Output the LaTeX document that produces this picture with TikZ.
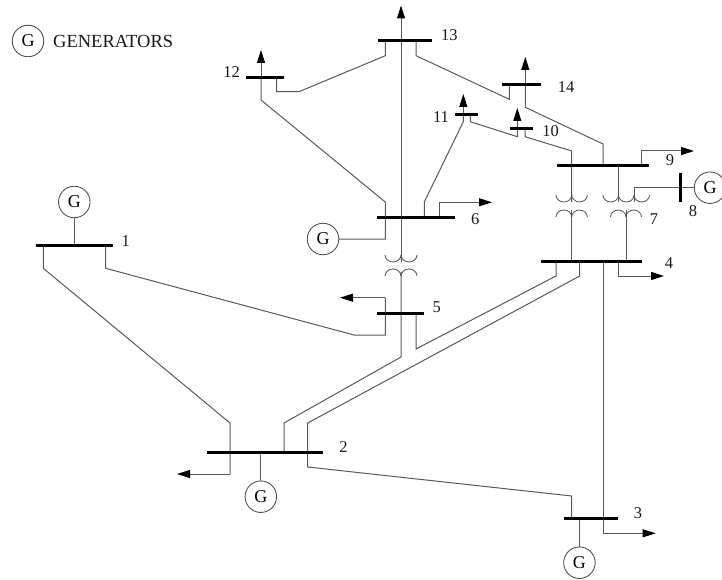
\documentclass[tikz,border=0pt]{standalone}
\usepackage{fontspec}
\setmainfont{Liberation Serif}
\usetikzlibrary{arrows.meta}
\tikzset{
  x=1pt,y=-1pt,
  wire/.style={draw=black!65,line width=1pt,line join=miter},
  load/.style={wire,-{Triangle[black,length=13pt,width=8pt]}},
  coil/.style={draw=black!65,line width=0.85pt},
  busbar/.style={draw=black,line width=3pt},
  gen/.style={circle,draw=black!70,line width=0.85pt,minimum size=31.5pt,inner sep=0pt,font=\fontsize{18}{18}\selectfont},
  lbl/.style={inner sep=0pt,text=black!90,font=\fontsize{16.5}{16.5}\selectfont},
}
\newcommand{\upcoil}[3]{\draw[coil] (#1,#2) arc[start angle=180,end angle=0,x radius=#3,y radius=7];}
\newcommand{\lowcoil}[3]{\draw[coil] (#1,#2) arc[start angle=180,end angle=360,x radius=#3,y radius=7];}
\begin{document}
\begin{tikzpicture}
\useasboundingbox (0,0) rectangle (722,580);
% buses
\foreach \n/\xa/\xb/\yy in {1/36/113/245,2/207/323/452,3/564/618/518.7,4/541/642/261.3,5/377/424/313,6/377/455/217,9/557/649/165.3,10/510/533/128.7,11/455/478/114.3,12/246/284/77.3,13/378/432/41,14/502/541/85}{
  \coordinate (b\n a) at (\xa,\yy);
  \coordinate (b\n b) at (\xb,\yy);
}
\coordinate (b8a) at (680.7,173);
\coordinate (b8b) at (680.7,202);
% generators
\node[gen] (gleg) at (28,41) {G};
\node[gen] (g1) at (74.3,202) {G};
\node[gen] (g2) at (260.8,496.7) {G};
\node[gen] (g3) at (579.4,562.7) {G};
\node[gen] (g6) at (323,239) {G};
\node[gen] (g8) at (710,187.7) {G};
% load end points
\coordinate (l13) at (401,5.5);
\coordinate (l12) at (261,50);
\coordinate (l14) at (525.3,57);
\coordinate (l11) at (463.3,94);
\coordinate (l10) at (517.3,108);
\coordinate (l9) at (694,151);
\coordinate (l6) at (492,202.3);
\coordinate (l5) at (340,297.7);
\coordinate (l4) at (664,276);
\coordinate (l3) at (655.7,533.3);
\coordinate (l2) at (177,474);
% wires
\draw[wire] (g1) -- (74.3,245);
\draw[wire] (43.3,245) -- (43.3,268.3) -- (230,423) -- (230,474);
\draw[load] (230,474) -- (l2);
\draw[wire] (105.7,245) -- (105.7,268.3) -- (354,335) -- (385.3,335) -- (385.3,297.7);
\draw[load] (385.3,297.7) -- (l5);
\draw[wire] (g2) -- (260.8,452);
\draw[wire] (284,452) -- (284,423) -- (401,357) -- (401,272);
\draw[wire] (416,313) -- (416,349) -- (556,276) -- (556,261.3);
\draw[wire] (579.7,261.3) -- (579.7,276) -- (307.7,423) -- (307.7,467) -- (571.7,496) -- (571.7,518.7);
\draw[wire] (603,261.3) -- (603,533.3);
\draw[load] (603,533.3) -- (l3);
\draw[wire] (g3) -- (579.4,518.7);
\draw[load] (618.7,261.3) -- (618.7,276) -- (l4);
\draw[wire] (g6) -- (385.3,239) -- (385.3,202) -- (261,100) -- (261,77.3);
\draw[load] (261,77.3) -- (l12);
\draw[wire] (276.7,77.3) -- (276.7,91.7) -- (299,91.7) -- (385.3,55.7) -- (385.3,41);
\draw[load] (401,262) -- (l13);
\draw[wire] (424.3,217) -- (424.3,202) -- (463.3,121.7) -- (463.3,114.3);
\draw[load] (463.3,114.3) -- (l11);
\draw[load] (439.3,217) -- (439.3,202.3) -- (l6);
\draw[wire] (470.3,114.3) -- (470.3,121.7) -- (517.3,136.7) -- (517.3,128.7);
\draw[load] (517.3,128.7) -- (l10);
\draw[wire] (525,128.7) -- (525,136.7) -- (571.7,151) -- (571.7,202);
\draw[wire] (416,41) -- (416,55.7) -- (509.3,99.3) -- (509.3,85);
\draw[load] (525.3,85) -- (l14);
\draw[wire] (525.3,85) -- (525.3,107.3) -- (603,144) -- (603,165.3);
\draw[load] (641.7,165.3) -- (641.7,151) -- (l9);
\draw[wire] (618.7,165.3) -- (618.7,202);
\draw[wire] (634,202) -- (634,187.7) -- (g8);
\draw[wire] (571.7,210) -- (571.7,261.3);
\draw[wire] (626,210) -- (626,261.3);
% transformer coils
\upcoil{385}{255}{8}\upcoil{401}{255}{8}
\lowcoil{385}{276}{8}\lowcoil{401}{276}{8}
\upcoil{556}{195}{7.85}\upcoil{571.7}{195}{7.85}
\lowcoil{556}{217}{7.85}\lowcoil{571.7}{217}{7.85}
\upcoil{603}{195}{7.75}\upcoil{618.5}{195}{7.75}\upcoil{634}{195}{7.75}
\lowcoil{610.5}{217}{7.75}\lowcoil{626}{217}{7.75}
% bars
\foreach \n in {1,2,3,4,5,6,9,10,11,12,13,14} \draw[busbar] (b\n a) -- (b\n b);
\draw[busbar] (b8a) -- (b8b);
% labels
\node[lbl] (t1) at (125.7,241) {1};
\node[lbl] (t2) at (343.5,447) {2};
\node[lbl] (t3) at (638,512.7) {3};
\node[lbl] (t4) at (669,263.3) {4};
\node[lbl] (t5) at (436.7,307) {5};
\node[lbl] (t6) at (475.3,219) {6};
\node[lbl] (t7) at (654,219) {7};
\node[lbl] (t8) at (693,211) {8};
\node[lbl] (t9) at (670,160) {9};
\node[lbl] (t10) at (550.7,131) {10};
\node[lbl] (t11) at (441,116.7) {11};
\node[lbl] (t12) at (231.7,71.7) {12};
\node[lbl] (t13) at (449.3,35) {13};
\node[lbl] (t14) at (566,86.7) {14};
\node[lbl,anchor=west,font=\fontsize{18.5}{18.5}\selectfont] (tg) at (53,41.5) {GENERATORS};
\end{tikzpicture}
\end{document}
